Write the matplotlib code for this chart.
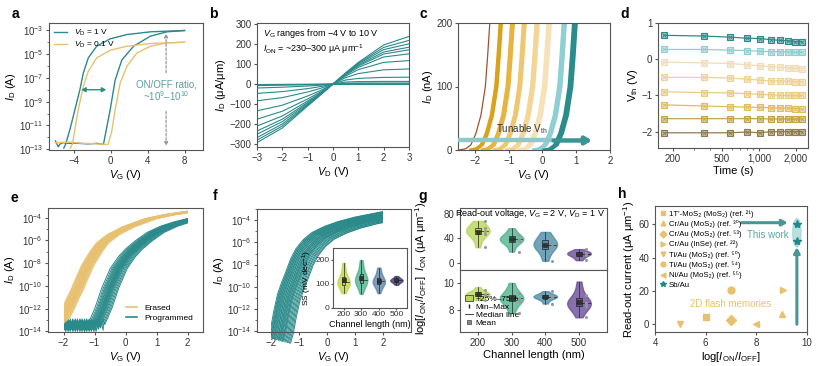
import matplotlib
matplotlib.use('Agg')
import matplotlib.pyplot as plt
import numpy as np
from matplotlib.patches import Ellipse, Rectangle
from matplotlib.lines import Line2D
from matplotlib.colors import to_rgba
from matplotlib.ticker import LogLocator, NullFormatter, FixedLocator

plt.rcParams['font.family'] = ['Liberation Sans', 'DejaVu Sans']
plt.rcParams['mathtext.fontset'] = 'custom'
plt.rcParams['mathtext.rm'] = 'Liberation Sans'
plt.rcParams['mathtext.it'] = 'Liberation Sans:italic'
plt.rcParams['mathtext.bf'] = 'Liberation Sans:bold'
plt.rcParams['font.size'] = 7
plt.rcParams['axes.linewidth'] = 0.8
plt.rcParams['axes.edgecolor'] = '#555555'
plt.rcParams['xtick.color'] = '#555555'
plt.rcParams['ytick.color'] = '#555555'
plt.rcParams['xtick.labelcolor'] = '#333333'
plt.rcParams['ytick.labelcolor'] = '#333333'
plt.rcParams['xtick.labelsize'] = 7
plt.rcParams['ytick.labelsize'] = 7
plt.rcParams['xtick.major.size'] = 2.5
plt.rcParams['ytick.major.size'] = 2.5
plt.rcParams['xtick.minor.size'] = 1.5
plt.rcParams['ytick.minor.size'] = 1.5
plt.rcParams['xtick.major.pad'] = 1.5
plt.rcParams['ytick.major.pad'] = 1.5
plt.rcParams['axes.labelsize'] = 8
plt.rcParams['axes.labelpad'] = 1.5

TEAL = '#2b8a8a'
GOLD = '#e8c170'
TXT = '#333333'

# ---------------- data ----------------
# a: transfer hysteresis (log10 of I_D)
a_vd1_fwd_v = [-6.0, -5.7, -5.5, -5.2, -4.5, -3.5, -2.5, -1.5, -0.8, -0.07, 0.47, 1.2, 2.47, 4.3, 6.1, 8.0]
a_vd1_fwd_log = [-12.3, -12.8, -12.55, -12.45, -12.5, -12.5, -12.55, -12.5, -12.6, -9.7, -7.2, -5.5, -4.35, -3.5, -3.14, -3.03]
a_vd1_rev_v = [8.0, 4.3, 1.75, -0.07, -1.53, -2.44, -2.98, -3.35, -3.9, -4.44, -4.9, -5.1]
a_vd1_rev_log = [-3.03, -3.14, -3.37, -3.73, -4.35, -5.33, -6.6, -8.0, -9.7, -11.37, -12.58, -12.9]
a_vd01_fwd_v = [-6.0, -4.5, -3.0, -1.5, -0.3, 0.1, 0.47, 1.02, 1.75, 2.84, 4.3, 6.1, 8.0]
a_vd01_fwd_log = [-12.45, -12.4, -12.5, -12.55, -12.6, -11.5, -9.7, -7.44, -6.03, -4.91, -4.35, -4.07, -4.01]
a_vd01_rev_v = [8.0, 4.3, 1.75, -0.07, -1.53, -2.44, -2.98, -3.53, -3.9, -4.15, -4.4]
a_vd01_rev_log = [-4.01, -4.12, -4.35, -4.69, -5.33, -6.46, -7.72, -9.69, -11.37, -12.55, -12.9]

# b: output curves, V_G from -4 V to 10 V
b_vd = [-3, -2, -1, -0.5, 0, 0.5, 1, 2, 3]
b_id = [
    [-293, -220, -110, -56, 0, 56, 108, 195, 238],
    [-281, -210, -106, -54, 0, 54, 104, 183, 218],
    [-268, -200, -102, -52, 0, 52, 100, 172, 201],
    [-251, -188, -97, -50, 0, 50, 95, 160, 184],
    [-235, -176, -92, -48, 0, 48, 90, 150, 171],
    [-210, -160, -85, -45, 0, 45, 83, 135, 151],
    [-176, -136, -75, -40, 0, 40, 72, 108, 117],
    [-134, -106, -60, -33, 0, 32, 52, 71, 75],
    [-84, -68, -40, -22, 0, 20, 28, 33, 34],
    [-47, -38, -23, -13, 0, 10, 12, 13, 13],
    [-20, -16, -10, -6, 0, 4, 5, 5, 5],
    [-8, -6, -4, -2, 0, 1, 1, 1, 1],
    [-3, -2, -1, -0.5, 0, 0, 0, 0, 0],
    [0, 0, 0, 0, 0, 0, 0, 0, 0],
]

# c: linear transfer curves, shape relative to V at 200 nA
c_dv = [-0.9, -0.7, -0.55, -0.4, -0.25, -0.12, -0.05, 0.03]
c_id = [0, 2, 8, 26, 55, 100, 150, 215]
c_vtop = [[-1.57], [-1.27, -1.22], [-0.93, -0.87], [-0.58, -0.52],
          [-0.2, -0.14], [0.15, 0.22], [0.6, 0.67], [0.9, 0.95, 1.0]]
c_colors = ['#a0522d', '#d9a21b', '#e6b440', '#efc770', '#f3d596', '#f6e2b8', '#8dcfd2', '#2a8c8c']
c_widths = [0.9, 2.0, 2.2, 2.2, 2.4, 2.4, 2.2, 1.8]

# d: retention
d_time = [170, 360, 580, 800, 1020, 1250, 1490, 1720, 1970, 2250]
d_vth = [
    [0.66, 0.64, 0.61, 0.58, 0.57, 0.54, 0.52, 0.51, 0.48, 0.48],
    [0.27, 0.27, 0.25, 0.24, 0.22, 0.21, 0.21, 0.20, 0.19, 0.19],
    [-0.08, -0.10, -0.12, -0.15, -0.18, -0.21, -0.22, -0.23, -0.25, -0.26],
    [-0.50, -0.50, -0.52, -0.55, -0.58, -0.60, -0.60, -0.61, -0.62, -0.62],
    [-0.90, -0.92, -0.93, -0.95, -0.97, -0.98, -1.00, -1.00, -1.00, -1.00],
    [-1.26, -1.29, -1.31, -1.32, -1.33, -1.34, -1.35, -1.35, -1.36, -1.38],
    [-1.64, -1.64, -1.64, -1.64, -1.64, -1.65, -1.65, -1.65, -1.65, -1.65],
    [-2.03, -2.03, -2.03, -2.01, -2.03, -2.00, -2.00, -2.00, -2.00, -2.00],
]
d_colors = ['#2e8b8b', '#8fcfcf', '#f0dcb8', '#eed29a', '#eacb84', '#e3bd5c', '#c4a445', '#8f7b50']

# e: erased / programmed transfer curves
e_erased_v = [-2.2, -2.0, -1.85, -1.7, -1.57, -1.4, -1.2, -0.95, -0.75, -0.4, 0.1, 0.8, 1.4, 2.0, 2.4]
e_erased_log = [-13.3, -12.8, -12.0, -11.1, -10.4, -9.3, -8.1, -7.0, -6.25, -5.5, -4.8, -4.1, -3.75, -3.5, -3.35]
e_erased_shift = [-0.2, -0.17, -0.15, -0.13, -0.11, -0.09, -0.08, -0.06, -0.05, -0.03, -0.02, 0.0,
                  0.01, 0.02, 0.04, 0.05, 0.07, 0.08, 0.10, 0.12, 0.14, 0.17, 0.2]
e_prog_v = [-0.95, -0.85, -0.71, -0.5, -0.22, 0.05, 0.28, 0.6, 0.97, 1.4, 1.8, 2.3]
e_prog_log = [-13.4, -12.8, -11.9, -10.2, -8.45, -7.4, -6.73, -6.0, -5.29, -4.75, -4.4, -4.05]
e_prog_shift = [-0.27, -0.22, -0.18, -0.15, -0.12, -0.10, -0.07, -0.05, -0.03, -0.01, 0.0,
                0.02, 0.04, 0.06, 0.08, 0.10, 0.13, 0.16, 0.20, 0.24, 0.28]
e_noise_v = [-2.0, -1.93, -1.85, -1.78, -1.7, -1.62, -1.55, -1.47, -1.4, -1.32, -1.25, -1.17, -1.1,
             -1.02, -0.95, -0.87, -0.8, -0.72, -0.65]
e_noise_log = [-13.2, -13.8, -13.1, -13.6, -13.9, -13.4, -13.0, -13.7, -13.3, -14.0, -13.2, -13.6,
               -12.9, -13.8, -13.3, -13.5, -13.0, -13.9, -13.4]

# f: device-to-device transfer curves
f_v = [-2.1, -2.0, -1.9, -1.77, -1.62, -1.47, -1.3, -1.12, -0.85, -0.54, -0.1, 0.4, 1.0, 1.5, 2.0, 2.8]
f_log = [-14.5, -13.6, -12.2, -10.7, -9.6, -8.65, -7.5, -6.6, -5.75, -5.1, -4.55, -4.1, -3.7, -3.45, -3.2, -2.9]
f_shift = [0.0, 0.03, 0.06, 0.08, 0.1, 0.12, 0.15, 0.17, 0.2, 0.22, 0.25, 0.27, 0.3, 0.32, 0.35,
           0.37, 0.4, 0.42, 0.45, 0.48, 0.5, 0.53, 0.56, 0.6, 0.64, 0.68, 0.72, 0.76, 0.8]
f_drop = [0.0, 0.05, 0.0, 0.1, 0.05, 0.15, 0.1, 0.2, 0.12, 0.2, 0.25, 0.2, 0.3, 0.25, 0.3,
          0.35, 0.3, 0.4, 0.35, 0.4, 0.45, 0.4, 0.45, 0.5, 0.5, 0.55, 0.55, 0.6, 0.6]

# f inset: subthreshold swing (mV/dec)
lengths = [200, 300, 400, 500]
ss_data = [
    [62, 75, 85, 92, 98, 102, 105, 108, 110, 113, 118, 125, 135, 150, 170, 188],
    [60, 80, 95, 102, 108, 112, 115, 118, 122, 128, 135, 145, 160, 180, 200],
    [62, 80, 92, 100, 104, 107, 110, 112, 115, 120, 128, 140, 155, 168],
    [97, 103, 107, 110, 112, 114, 115, 116, 118, 120, 123, 127, 133],
]
ss_colors = ['#c2d64e', '#4fb38c', '#5f86a8', '#3e3a7a']

# g: I_ON and ON/OFF ratio vs channel length
ion_data = [
    [25, 35, 42, 46, 48, 50, 51, 53, 55, 57, 60, 64, 68],
    [18, 27, 32, 35, 37, 38, 39, 40, 42, 45, 50, 56],
    [3, 12, 20, 24, 27, 29, 30, 32, 35, 40, 45, 50],
    [4, 8, 11, 13, 14, 15, 16, 17, 19, 22],
]
ratio_data = [
    [8.75, 8.95, 9.05, 9.1, 9.15, 9.2, 9.22, 9.28, 9.35, 9.45, 9.7],
    [7.8, 8.2, 8.5, 8.7, 8.8, 8.85, 8.9, 9.0, 9.1, 9.3, 9.6, 10.0],
    [8.5, 8.75, 8.9, 8.95, 9.0, 9.02, 9.05, 9.1, 9.2, 9.4],
    [7.5, 7.9, 8.2, 8.35, 8.45, 8.5, 8.55, 8.65, 8.8, 9.1, 9.5, 10.1],
]
g_colors = ['#b8d65a', '#4fb38c', '#4d8ea8', '#6b4e96']

# h: benchmark
h_labels = ["1T\u2032-MoS\u2082 (MoS\u2082) (ref. \u00b2\u00b9)", "Cr/Au (MoS\u2082) (ref. \u00b3\u2070)",
            "Cr/Au (MoS\u2082) (ref. \u2075\u00b3)", "Cr/Au (InSe) (ref. \u00b2\u00b2)",
            "Ti/Au (MoS\u2082) (ref. \u2075\u2070)", "Ti/Au (MoS\u2082) (ref. \u2075\u2074)",
            "Ni/Au (MoS\u2082) (ref. \u2075\u2075)", "Sb/Au"]
h_markers = ['s', '^', 'D', '>', 'v', 'o', '<', '*']
h_ratio = [[6.0], [9.0], [7.0], [9.05], [5.0], [7.0], [8.0], [9.6, 9.6]]
h_current = [[4.3], [6.0], [2.4], [20.5], [0.0], [20.5], [0.4], [60, 50]]

# ---------------- figure ----------------
fig = plt.figure(figsize=(8.3, 3.66), dpi=100)


def add_ax(l, t, r, b):
    return fig.add_axes([l / 830, 1 - b / 366, (r - l) / 830, (b - t) / 366])


def log_decades(ax, lo, hi, step):
    ax.set_yscale('log')
    ax.yaxis.set_major_locator(FixedLocator([10.0 ** k for k in range(lo, hi + 1, step)]))
    ax.yaxis.set_minor_locator(LogLocator(base=10, subs=(1.0,), numticks=30))
    ax.yaxis.set_minor_formatter(NullFormatter())


def xclip(ln, ax):
    ln.set_clip_path(Rectangle((-2.0, 1e-20), 4.0, 1.0, transform=ax.transData))


# panel a
ax = add_ax(49, 23, 203, 150)
ax.plot(a_vd1_fwd_v, 10.0 ** np.array(a_vd1_fwd_log), color=TEAL, lw=1.0, label='$V_{\\rm D}$ = 1 V')
ax.plot(a_vd1_rev_v, 10.0 ** np.array(a_vd1_rev_log), color=TEAL, lw=1.0)
ax.plot(a_vd01_fwd_v, 10.0 ** np.array(a_vd01_fwd_log), color=GOLD, lw=1.0, label='$V_{\\rm D}$ = 0.1 V')
ax.plot(a_vd01_rev_v, 10.0 ** np.array(a_vd01_rev_log), color=GOLD, lw=1.0)
log_decades(ax, -13, -3, 2)
ax.set_ylim(10 ** -13.06, 10 ** -2.4)
ax.set_xlim(-6.7, 10)
ax.set_xticks([-4, 0, 4, 8])
ax.annotate('', xy=(-3.5, 1e-8), xytext=(-0.2, 1e-8),
            arrowprops=dict(arrowstyle='<|-|>,head_width=0.2,head_length=0.35', color='#2a8f7f', lw=1.0))
ax.annotate('', xy=(6, 10 ** -3.05), xytext=(6, 10 ** -6.8),
            arrowprops=dict(arrowstyle='-|>,head_width=0.15,head_length=0.3', color='#999999', lw=0.9, ls=(0, (2, 1.5))))
ax.annotate('', xy=(6, 10 ** -12.95), xytext=(6, 10 ** -9.6),
            arrowprops=dict(arrowstyle='-|>,head_width=0.15,head_length=0.3', color='#999999', lw=0.9, ls=(0, (2, 1.5))))
ax.text(6, 10 ** -8.1, 'ON/OFF ratio,\n~10$^9$\u201310$^{10}$', color='#5a9ea0', ha='center', va='center', fontsize=7,
        linespacing=1.0)
ax.legend(loc='upper left', fontsize=6, frameon=False, handlelength=1.6, borderaxespad=0.2, labelspacing=0.2)
ax.set_ylabel('$I_{\\rm D}$ (A)', labelpad=1)
ax.set_xlabel('$V_{\\rm G}$ (V)')

# panel b
ax = add_ax(257, 23, 409, 147)
for curve in b_id:
    ax.plot(b_vd, curve, color=TEAL, lw=0.8)
ax.set_xlim(-3, 3)
ax.set_ylim(-315, 305)
ax.set_xticks([-3, -2, -1, 0, 1, 2, 3])
ax.set_yticks([-300, -200, -100, 0, 100, 200, 300])
ax.text(-2.75, 250, '$V_{\\rm G}$ ranges from \u22124 V to 10 V', fontsize=6.5, va='center')
ax.text(-2.75, 175, '$I_{\\rm ON}$ = ~230\u2013300 \u03bcA \u03bcm$^{-1}$', fontsize=6.5, va='center')
ax.set_ylabel('$I_{\\rm D}$ (\u03bcA/\u03bcm)', labelpad=1)
ax.set_xlabel('$V_{\\rm D}$ (V)')

# panel c
ax = add_ax(458, 23, 610, 150)
for tops, col, lw in zip(c_vtop, c_colors, c_widths):
    for vt in tops:
        ax.plot(np.array(c_dv) + vt, c_id, color=col, lw=lw, solid_capstyle='butt')
ax.plot([-2.5, 0.3], [15, 15], color='#8ec8c8', lw=3.2, solid_capstyle='butt', zorder=5)
ax.annotate('', xy=(1.55, 15), xytext=(0.25, 15), zorder=5,
            arrowprops=dict(arrowstyle='-|>,head_width=0.3,head_length=0.5', color='#3a9494', lw=3.2))
ax.text(-0.6, 33, 'Tunable V$_{\\rm th}$', ha='center', va='center', fontsize=7, color=TXT, zorder=6)
ax.set_xlim(-2.5, 2)
ax.set_ylim(0, 200)
ax.set_xticks([-2, -1, 0, 1, 2])
ax.set_yticks([0, 100, 200])
ax.set_ylabel('$I_{\\rm D}$ (nA)', labelpad=1)
ax.set_xlabel('$V_{\\rm G}$ (V)')

# panel d
ax = add_ax(658, 23, 808, 148)
for vals, col in zip(d_vth, d_colors):
    ax.plot(d_time, vals, color=col, lw=0.9, marker='s', ms=4.2, mfc=to_rgba(col, 0.45), mec=col, mew=0.8)
    ax.plot(d_time, vals, ls='none', marker='x', ms=2.6, mec=col, mew=0.6)
ax.set_xscale('log')
ax.set_xlim(152, 2500)
ax.set_ylim(-2.45, 1)
ax.set_xticks([200, 500, 1000, 2000])
ax.set_xticklabels(['200', '500', '1,000', '2,000'])
ax.xaxis.set_minor_formatter(NullFormatter())
ax.set_yticks([-2, -1, 0, 1])
ax.set_ylabel('V$_{\\rm th}$ (V)', labelpad=1)
ax.set_xlabel('Time (s)')

# panel e
BOT = 332
ax = add_ax(48, 208, 203, BOT)
for k, s in enumerate(e_prog_shift):
    v0 = e_prog_v[0] + s
    nl = np.roll(e_noise_log, k * 5)
    nv = [v for v in e_noise_v if v < v0]
    xs = nv + list(np.array(e_prog_v) + s)
    ys = list(nl[:len(nv)]) + e_prog_log
    ln, = ax.plot(xs, 10.0 ** np.array(ys), color=TEAL, lw=0.7)
    xclip(ln, ax)
for s in e_erased_shift:
    ln, = ax.plot(np.array(e_erased_v) + s, 10.0 ** np.array(e_erased_log), color=GOLD, lw=0.7)
    xclip(ln, ax)
log_decades(ax, -14, -4, 2)
ax.set_ylim(10 ** -14.05, 10 ** -3.15)
ax.set_xlim(-2.5, 2.5)
ax.set_xticks([-2, -1, 0, 1, 2])
ax.legend(handles=[Line2D([], [], color=GOLD, lw=1.2, label='Erased'),
                   Line2D([], [], color=TEAL, lw=1.2, label='Programmed')],
          loc='lower right', fontsize=6, frameon=False, handlelength=1.4, borderaxespad=0.8, labelspacing=0.3)
ax.set_ylabel('$I_{\\rm D}$ (A)', labelpad=1)
ax.set_xlabel('$V_{\\rm G}$ (V)')

# panel f
ax = add_ax(257, 209, 411, BOT)
for s, dr in zip(f_shift, f_drop):
    ln, = ax.plot(np.array(f_v) + s, 10.0 ** (np.array(f_log) - dr), color=TEAL, lw=0.7)
    xclip(ln, ax)
log_decades(ax, -14, -4, 2)
ax.set_ylim(10 ** -14.1, 10 ** -2.97)
ax.set_xlim(-2.5, 3.0)
ax.set_xticks([-2, -1, 0, 1, 2])
ax.set_ylabel('$I_{\\rm D}$ (A)', labelpad=1)
ax.set_xlabel('$V_{\\rm G}$ (V)')


def violin(ax, pos, data, color, width, alpha=0.8, dots=True):
    parts = ax.violinplot(data, positions=[pos], widths=width, showextrema=False, bw_method=0.6)
    for b in parts['bodies']:
        b.set_facecolor(color)
        b.set_edgecolor(color)
        b.set_alpha(alpha)
    q1, med, q3 = np.percentile(data, [25, 50, 75])
    bw = width * 0.25
    ax.plot([pos, pos], [min(data), max(data)], color='#222222', lw=0.5, zorder=3)
    ax.add_patch(Rectangle((pos - bw / 2, q1), bw, q3 - q1, fc=color, ec='#222222', lw=0.5, zorder=4))
    ax.plot([pos - bw / 2, pos + width * 0.45], [med, med], color='#222222', lw=0.5, zorder=5)
    ax.plot(pos, np.mean(data), 's', ms=2.2, mfc='#333333', mec='#222222', mew=0.4, zorder=6)
    if dots:
        ax.scatter([pos + width * 0.3] * len(data[::3]), data[::3], s=1.5, color='#999999', zorder=6)


# f inset
ax = add_ax(333, 248, 407, 308)
for pos, data, col in zip(lengths, ss_data, ss_colors):
    violin(ax, pos, data, col, 70, dots=False)
ax.set_xlim(140, 560)
ax.set_ylim(0, 250)
ax.set_xticks(lengths)
ax.set_yticks([0, 100, 200])
ax.tick_params(labelsize=6, length=1.5, pad=1)
ax.set_xlabel('Channel length (nm)', fontsize=6.5, labelpad=1)
ax.set_ylabel('SS (mV dec$^{-1}$)', fontsize=6, labelpad=1)

# panel g
axu = add_ax(460, 208, 607, 270)
axl = add_ax(460, 270, 607, BOT)
for pos, data, col in zip(lengths, ion_data, g_colors):
    violin(axu, pos, data, col, 70)
for pos, data, col in zip(lengths, ratio_data, g_colors):
    violin(axl, pos, data, col, 70)
for a_ in (axu, axl):
    a_.set_xlim(147, 583)
    a_.set_xticks(lengths)
axu.set_xticklabels([])
axu.set_ylim(-12, 89)
axu.set_yticks([0, 40, 80])
axl.set_ylim(6.43, 10.94)
axl.set_yticks([8, 10])
axu.text(578, 80, 'Read-out voltage, $V_{\\rm G}$ = 2 V, $V_{\\rm D}$ = 1 V', ha='right', va='center', fontsize=6.5)
axl.set_xlabel('Channel length (nm)')
fig.text(421 / 830, 1 - 268 / 366, 'log[$I_{\\rm ON}$/$I_{\\rm OFF}$]  $I_{\\rm ON}$ (\u03bcA \u03bcm$^{-1}$)',
         rotation=90, ha='center', va='center', fontsize=8)
g_handles = [Rectangle((0, 0), 1, 1, fc='#b8d65a', ec='#222222', lw=0.5, label='~25%\u201375%'),
             Line2D([], [], ls='none', marker='$\\mathrm{I}$', ms=3.5, color='#222222', label='Min\u2013Max'),
             Line2D([], [], color='#222222', lw=0.6, label='Median line'),
             Line2D([], [], ls='none', marker='s', ms=2.2, mfc='#888888', mec='#222222', mew=0.4, label='Mean')]
axl.legend(handles=g_handles, loc='lower left', fontsize=6, frameon=False, handlelength=0.9, handleheight=0.6,
           labelspacing=0.05, borderaxespad=0.2, handletextpad=0.4)

# panel h
ax = add_ax(655, 206, 807, BOT)
for lab, mk, xs, ys in zip(h_labels, h_markers, h_ratio, h_current):
    if mk == '*':
        ax.plot(xs, ys, ls='none', marker=mk, ms=6, color='#1f8a8a', label=lab, zorder=5)
    else:
        ax.plot(xs, ys, ls='none', marker=mk, ms=5, color=GOLD, label=lab)
ax.add_patch(Ellipse((9.6, 55), 0.33, 17, color='#a8d8d8', alpha=0.8, zorder=3))
ax.annotate('', xy=(9.35, 61), xytext=(7.3, 61),
            arrowprops=dict(arrowstyle='-|>,head_width=0.25,head_length=0.45', color='#4a9696', lw=2.2))
ax.annotate('', xy=(9.6, 48), xytext=(9.6, -1.5),
            arrowprops=dict(arrowstyle='-|>,head_width=0.25,head_length=0.45', color='#4a9696', lw=2.2))
ax.text(8.45, 53.5, 'This work', color='#5aa5a5', ha='center', va='center', fontsize=7)
ax.text(7.0, 12.5, '2D flash memories', color=GOLD, ha='center', va='center', fontsize=7)
ax.set_xlim(4, 10)
ax.set_ylim(-4.5, 71)
ax.set_xticks([4, 6, 8, 10])
ax.set_yticks([0, 20, 40, 60])
ax.legend(loc='upper left', fontsize=5.6, frameon=False, markerscale=0.7, handlelength=1.0,
          handletextpad=0.3, labelspacing=0.32, borderaxespad=0.3, borderpad=0.2)
ax.set_ylabel('Read-out current (\u03bcA \u03bcm$^{-1}$)', labelpad=1)
ax.set_xlabel('log[$I_{\\rm ON}$/$I_{\\rm OFF}$]')

# panel letters
for lt, x, y in [('a', 12, 14), ('b', 209, 14), ('c', 420, 14), ('d', 620, 14),
                 ('e', 10, 198), ('f', 213, 196), ('g', 418, 196), ('h', 618, 194)]:
    fig.text(x / 830, 1 - y / 366, lt, fontsize=10, fontweight='bold', ha='left', va='center')

fig.savefig('out.png', dpi=100)
